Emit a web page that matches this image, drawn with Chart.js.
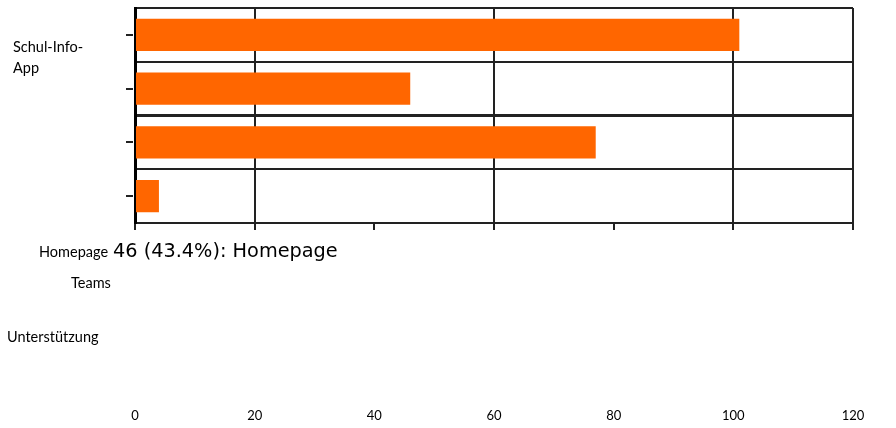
<!DOCTYPE html>
<html>
<head>
<meta charset="utf-8">
<script src="https://cdn.jsdelivr.net/npm/chart.js@4.4.0/dist/chart.umd.min.js"></script>
<style>
  html, body { margin: 0; padding: 0; background: #fff; }
  #wrap { position: relative; width: 896px; height: 428px; }
</style>
</head>
<body>
<div id="wrap"><canvas id="chart"></canvas></div>
<script>
const categories = [['Schul-Info-', 'App'], 'Homepage', 'Teams', 'Unterstützung'];
const counts = [101, 46, 77, 4];
const xTicks = [0, 20, 40, 60, 80, 100, 120];
const hoverIndex = 1;
const hoverShare = 43.4;

// where each category label ends up (left edge, middle of first line)
const labelSpots = [[13, 47], [39, 252], [71, 283], [7, 337]];

const labelFont = '14.5px Lato';
const ink = '#222';

const looseLabels = {
  id: 'looseLabels',
  afterDraw(chart) {
    const ctx = chart.ctx;
    const yScale = chart.scales.y;
    ctx.save();

    // short tick marks at the middle of each category
    ctx.strokeStyle = ink;
    ctx.lineWidth = 2;
    categories.forEach((c, i) => {
      const y = Math.round(yScale.getPixelForTick(i));
      ctx.beginPath();
      ctx.moveTo(chart.chartArea.left - 9, y);
      ctx.lineTo(chart.chartArea.left - 2, y);
      ctx.stroke();
    });

    ctx.fillStyle = '#000';
    ctx.textBaseline = 'middle';
    ctx.textAlign = 'left';
    ctx.font = labelFont;
    categories.forEach((c, i) => {
      const lines = Array.isArray(c) ? c : [c];
      const [x, y] = labelSpots[i];
      lines.forEach((line, j) => ctx.fillText(line, x, y + j * 21));
    });

    // hover readout left on the canvas
    const name = categories[hoverIndex];
    const txt = counts[hoverIndex] + ' (' + hoverShare.toFixed(1) + '%): ' + name;
    ctx.font = '19.3px "DejaVu Sans"';
    ctx.fillText(txt, 113, 252);
    ctx.restore();
  }
};

new Chart(document.getElementById('chart'), {
  type: 'bar',
  data: {
    labels: categories,
    datasets: [{
      data: counts,
      backgroundColor: '#FF6600',
      borderWidth: 0,
      barPercentage: 0.75,
      categoryPercentage: 0.8
    }]
  },
  options: {
    indexAxis: 'y',
    responsive: true,
    maintainAspectRatio: false,
    animation: false,
    layout: { padding: { top: 8, right: 43, left: 0, bottom: 0 } },
    plugins: {
      legend: { display: false },
      tooltip: { enabled: false }
    },
    scales: {
      x: {
        min: 0,
        max: 120,
        afterBuildTicks: (scale) => { scale.ticks = xTicks.map(v => ({ value: v })); },
        afterFit: (scale) => {
          scale.height = 205;
          // the big label gap must not widen the side margins
          scale.paddingLeft = 0;
          scale.paddingRight = 0;
        },
        border: { color: ink, width: 2 },
        grid: {
          color: (c) => (c.tick && [20, 60, 100, 120].includes(c.tick.value)) ? ink : 'rgba(0,0,0,0)',
          lineWidth: 2,
          tickColor: ink,
          tickLength: 7
        },
        ticks: {
          color: '#000',
          padding: 178,
          maxRotation: 0,
          font: { family: 'Lato', size: 13 }
        }
      },
      y: {
        afterFit: (scale) => { scale.width = 135; },
        border: { color: '#000', width: 3 },
        grid: {
          color: ink,
          lineWidth: (c) => c.index === 2 ? 3 : 2,
          offset: true,
          drawTicks: false
        },
        ticks: { display: false }
      }
    }
  },
  plugins: [looseLabels]
});
</script>
</body>
</html>
